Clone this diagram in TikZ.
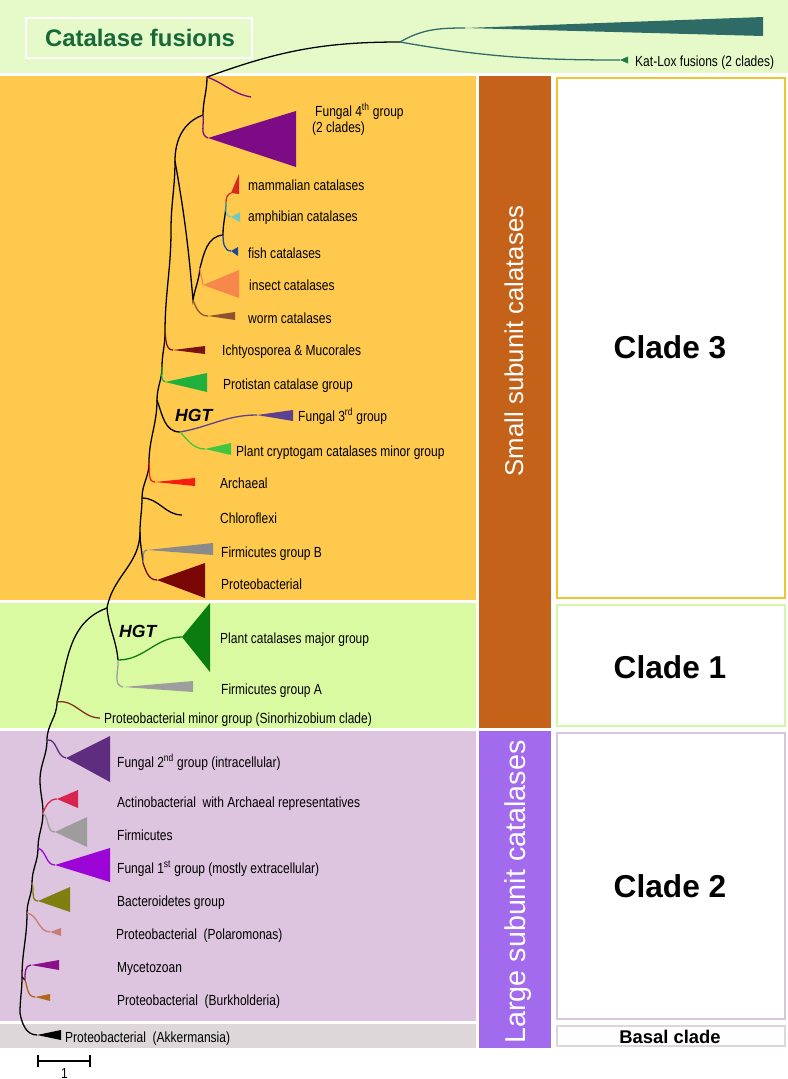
\documentclass[tikz,border=0pt]{standalone}
\usepackage{fontspec}
\setmainfont{Liberation Sans}
\newfontfamily\narrowfont[FakeStretch=0.82]{Liberation Sans}
\usepackage{tikz}

\definecolor{bandtop}{HTML}{E6FAC9}
\definecolor{bandorange}{HTML}{FEC94D}
\definecolor{bandgreen}{HTML}{DAFAA2}
\definecolor{bandpurple}{HTML}{DDC4DF}
\definecolor{bandgrey}{HTML}{DED7DA}
\definecolor{barbrown}{HTML}{C4621A}
\definecolor{barpurple}{HTML}{A26AEC}
\definecolor{boxyellow}{HTML}{F2C230}
\definecolor{boxgreen}{HTML}{D4F7A6}
\definecolor{boxpurple}{HTML}{D9C6DD}
\definecolor{boxgrey}{HTML}{DDD7D9}
\definecolor{titlegreen}{HTML}{17693A}
\definecolor{cfusion}{HTML}{2F6B66}
\definecolor{ckatlox}{HTML}{1F7A47}
\definecolor{cfourth}{HTML}{7D0B85}
\definecolor{cmam}{HTML}{D9291F}
\definecolor{camph}{HTML}{74C9BE}
\definecolor{cfish}{HTML}{1B4A95}
\definecolor{cins}{HTML}{F7884C}
\definecolor{cworm}{HTML}{8F5230}
\definecolor{cicht}{HTML}{7B1212}
\definecolor{cprot}{HTML}{1FB13C}
\definecolor{cthird}{HTML}{5C4191}
\definecolor{ccrypt}{HTML}{40C63F}
\definecolor{carch}{HTML}{F31D10}
\definecolor{cfirmb}{HTML}{8A8A8A}
\definecolor{cproteo}{HTML}{7A0505}
\definecolor{cplant}{HTML}{0B7D10}
\definecolor{cfirma}{HTML}{9E9E9E}
\definecolor{csino}{HTML}{7F3217}
\definecolor{csecond}{HTML}{5E2D7F}
\definecolor{cact}{HTML}{D82550}
\definecolor{cfirm}{HTML}{9D9D9D}
\definecolor{cfirst}{HTML}{9B06D6}
\definecolor{cbact}{HTML}{7F7F10}
\definecolor{cpol}{HTML}{C77D75}
\definecolor{cmyc}{HTML}{8B0E8A}
\definecolor{cburk}{HTML}{B1661D}

\begin{document}
\begin{tikzpicture}[x=0.03cm,y=-0.03cm,
  lbl/.style={anchor=base west,inner sep=0pt,font=\narrowfont\fontsize{12.5}{14}\selectfont},
  br/.style={line width=1.1pt},
  hgt/.style={anchor=base west,inner sep=0pt,font=\fontsize{15}{15}\selectfont\bfseries\itshape},
  clade/.style={inner sep=0pt,font=\fontsize{27}{27}\selectfont\bfseries},
  side/.style={rotate=90,anchor=base,inner sep=0pt,text=white}]
\useasboundingbox (0,0) rectangle (788,1079);

% background bands
\fill[bandtop] (0,0) rectangle (788,73);
\fill[bandorange] (0,76) rectangle (476,600);
\fill[bandgreen] (0,603) rectangle (476,728);
\fill[bandpurple] (0,731) rectangle (476,1021);
\fill[bandgrey] (0,1024) rectangle (476,1048);
\fill[barbrown] (479,76) rectangle (551,728);
\fill[barpurple] (479,731) rectangle (551,1048);
\draw[boxyellow,line width=2.5pt,fill=white] (557,78) rectangle (785,598);
\draw[boxgreen,line width=2.5pt,fill=white] (557,605) rectangle (785,726);
\draw[boxpurple,line width=2.5pt,fill=white] (557,733) rectangle (785,1019);
\draw[boxgrey,line width=2pt,fill=white] (557,1026) rectangle (785,1046);

% titles
\draw[white,line width=2.5pt] (26,18) rectangle (252,58);
\node[text=titlegreen,inner sep=0pt,font=\fontsize{20.4}{20.4}\selectfont\bfseries] (fusiontitle) at (140,38) {Catalase fusions};
\node[side,font=\fontsize{22}{22}\selectfont] (small) at (523,341) {Small subunit calatases};
\node[side,font=\fontsize{24.5}{24.5}\selectfont] (large) at (525,892) {Large subunit catalases};
\node[clade] (clade3) at (670,347) {Clade 3};
\node[clade] (clade1) at (670,667) {Clade 1};
\node[clade] (clade2) at (670,886) {Clade 2};
\node[inner sep=0pt,font=\fontsize{15.7}{15.7}\selectfont\bfseries] (basal) at (670,1037) {Basal clade};

% trunk
\coordinate (r0) at (20,1013);
\coordinate (r1) at (22,977);
\coordinate (r2) at (27,913);
\coordinate (r3) at (32,883);
\coordinate (r4) at (38,848);
\coordinate (r5) at (43,813);
\coordinate (r6) at (40,780);
\coordinate (r7) at (47,740);
\coordinate (r8) at (57,702);
\coordinate (r9) at (107,608);
\coordinate (r10) at (140,532);
\coordinate (r11) at (142,498);
\coordinate (r12) at (149,463);
\coordinate (r13) at (157,400);
\coordinate (r14) at (162,367);
\coordinate (r15) at (165,333);
\coordinate (r16) at (171,230);
\coordinate (r17) at (175,161);
\coordinate (r18) at (203,115);
\coordinate (r19) at (207,77);
\coordinate (f1) at (400,42);
\draw[br] (r0) to[out=90,in=-90] (r1) to[out=90,in=-90] (r2) to[out=90,in=-90] (r3)
  to[out=90,in=-90] (r4) to[out=90,in=-90] (r5) to[out=90,in=-90] (r6)
  to[out=90,in=-90] (r7) to[out=90,in=-90] (r8) to[out=75,in=200] (r9)
  to[out=80,in=-90] (r10) to[out=90,in=-90] (r11) to[out=90,in=-90] (r12)
  to[out=90,in=-90] (r13) to[out=90,in=-90] (r14) to[out=90,in=-90] (r15)
  to[out=90,in=-90] (r16) to[out=90,in=-90] (r17) to[out=90,in=200] (r18)
  to[out=90,in=-90] (r19) to[out=20,in=180] (f1);

% catalase fusions
\coordinate (wedge) at (465,28);
\coordinate (katlox) at (620,60);
\draw[br,cfusion] (f1) to[out=30,in=180] (wedge);
\fill[cfusion] (wedge) -- (763,17) -- (763,36) -- cycle;
\draw[br,cfusion] (f1) to[out=-10,in=180] (katlox);
\fill[ckatlox] (katlox) -- (628,56.5) -- (628,63.5) -- cycle;
\node[lbl] (lkatlox) at (635,66) {Kat-Lox fusions (2 clades)};

% clade 3
\coordinate (twig) at (251,97);
\draw[br,cfourth] (r19) to[out=-20,in=170] (twig);
\coordinate (fourth) at (208,138);
\draw[br,cfourth] (r18) to[out=-80,in=160] (fourth);
\fill[cfourth] (fourth) -- (296,111) -- (296,167) -- cycle;
\node[lbl] (lfourth) at (315,116) {Fungal 4\textsuperscript{th} group};
\node[lbl] (lfourthb) at (312,132) {(2 clades)};

\coordinate (a1) at (193,300);
\coordinate (a2) at (200,268);
\coordinate (a3) at (223,235);
\coordinate (a4) at (226,202);
\draw[br] (r17) to[out=-80,in=95] (a1) to[out=80,in=-95] (a2) to[out=75,in=185] (a3) to[out=90,in=-90] (a4);

\coordinate (mam) at (231,193);
\draw[br,cmam] (a4) to[out=90,in=200] (mam);
\fill[cmam] (mam) -- (239,174) -- (239,194) -- cycle;
\node[lbl] (lmam) at (248,190) {mammalian catalases};

\coordinate (amph) at (231,217);
\draw[br,camph] (a4) to[out=-90,in=180] (amph);
\fill[camph] (amph) -- (240,212) -- (240,222) -- cycle;
\node[lbl] (lamph) at (248,221) {amphibian catalases};

\coordinate (fish) at (231,251);
\draw[br,cfish] (a3) to[out=-90,in=180] (fish);
\fill[cfish] (fish) -- (238,247) -- (238,256) -- cycle;
\node[lbl] (lfish) at (248,258) {fish catalases};

\coordinate (ins) at (203,285);
\draw[br,cins] (a2) to[out=-85,in=100] (ins);
\fill[cins] (ins) -- (239,270) -- (239,298) -- cycle;
\node[lbl] (lins) at (249,290) {insect catalases};

\coordinate (worm) at (208,316);
\draw[br,cworm] (a1) to[out=-70,in=180] (worm);
\fill[cworm] (worm) -- (235,312) -- (235,320) -- cycle;
\node[lbl] (lworm) at (248,323) {worm catalases};

\coordinate (icht) at (173,350);
\draw[br,cicht] (r15) to[out=-80,in=180] (icht);
\fill[cicht] (icht) -- (205,346) -- (205,354) -- cycle;
\node[lbl] (licht) at (222,355) {Ichtyosporea \& Mucorales};

\coordinate (prot) at (165,382);
\draw[br,cprot] (r14) to[out=-80,in=160] (prot);
\fill[cprot] (prot) -- (207,373) -- (207,392) -- cycle;
\node[lbl] (lprot) at (223,389) {Protistan catalase group};

\coordinate (h1) at (180,432);
\draw[br] (r13) to[out=-70,in=180] (h1);
\node[hgt] (hgta) at (175,421) {HGT};
\coordinate (third) at (257,415);
\draw[br,cthird] (h1) to[out=10,in=180] (third);
\fill[cthird] (third) -- (293,410) -- (293,421) -- cycle;
\node[lbl] (lthird) at (298,421) {Fungal 3\textsuperscript{rd} group};

\coordinate (crypt) at (205,449);
\draw[br,ccrypt] (h1) to[out=-45,in=180] (crypt);
\fill[ccrypt] (crypt) -- (231,443) -- (231,455) -- cycle;
\node[lbl] (lcrypt) at (236,456) {Plant cryptogam catalases minor group};

\coordinate (arch) at (155,482);
\draw[br,carch] (r12) to[out=-80,in=180] (arch);
\fill[carch] (arch) -- (195,478) -- (195,486) -- cycle;
\node[lbl] (larch) at (220,488) {Archaeal};

\coordinate (chlor) at (182,515);
\draw[br] (r11) to[out=0,in=180] (chlor);
\node[lbl] (lchlor) at (220,523) {Chloroflexi};

\coordinate (p1) at (143,563);
\draw[br] (r10) to[out=-90,in=95] (p1);
\coordinate (firmb) at (147,550);
\draw[br,cfirmb] (p1) to[out=80,in=180] (firmb);
\fill[cfirmb] (firmb) -- (213,543) -- (213,555) -- cycle;
\node[lbl] (lfirmb) at (221,557) {Firmicutes group B};

\coordinate (proteo) at (157,580);
\draw[br,cproteo] (p1) to[out=-70,in=180] (proteo);
\fill[cproteo] (proteo) -- (205,563) -- (205,598) -- cycle;
\node[lbl] (lproteo) at (221,589) {Proteobacterial};

% clade 1
\coordinate (k1) at (118,660);
\draw[br] (r9) to[out=-85,in=95] (k1);
\node[hgt] (hgtb) at (119,637) {HGT};
\coordinate (plant) at (182,637);
\draw[br,cplant] (k1) to[out=0,in=180] (plant);
\fill[cplant] (plant) -- (210,603) -- (210,672) -- cycle;
\node[lbl] (lplant) at (220,643) {Plant catalases major group};

\coordinate (firma) at (123,687);
\draw[br,cfirma] (k1) to[out=-85,in=170] (firma);
\fill[cfirma] (firma) -- (193,681) -- (193,692) -- cycle;
\node[lbl] (lfirma) at (221,694) {Firmicutes group A};

\coordinate (sino) at (100,718);
\draw[br,csino] (r8) to[out=10,in=180] (sino);
\node[lbl] (lsino) at (104,723) {Proteobacterial minor group (Sinorhizobium clade)};

% clade 2
\coordinate (second) at (66,758);
\draw[br,csecond] (r7) to[out=10,in=170] (second);
\fill[csecond] (second) -- (110,736) -- (110,782) -- cycle;
\node[lbl] (lsecond) at (117,767) {Fungal 2\textsuperscript{nd} group (intracellular)};

\coordinate (act) at (57,799);
\draw[br,cact] (r5) to[out=70,in=180] (act);
\fill[cact] (act) -- (78,790) -- (78,808) -- cycle;
\node[lbl] (lact) at (117,807) {Actinobacterial~ with Archaeal representatives};

\coordinate (firm) at (55,832);
\draw[br,cfirm] (r5) to[out=-40,in=180] (firm);
\fill[cfirm] (firm) -- (87,817) -- (87,847) -- cycle;
\node[lbl] (lfirm) at (117,840) {Firmicutes};

\coordinate (first) at (55,865);
\draw[br,cfirst] (r4) to[out=-20,in=180] (first);
\fill[cfirst] (first) -- (110,848) -- (110,882) -- cycle;
\node[lbl] (lfirst) at (117,873) {Fungal 1\textsuperscript{st} group (mostly extracellular)};

\coordinate (bact) at (38,901);
\draw[br,cbact] (r3) to[out=-70,in=180] (bact);
\fill[cbact] (bact) -- (70,887) -- (70,912) -- cycle;
\node[lbl] (lbact) at (117,906) {Bacteroidetes group};

\coordinate (pol) at (50,932);
\draw[br,cpol] (r2) to[out=-10,in=180] (pol);
\fill[cpol] (pol) -- (61,928) -- (61,936) -- cycle;
\node[lbl] (lpol) at (116,939) {Proteobacterial~ (Polaromonas)};

\coordinate (m1) at (25,980);
\draw[br] (r1) to[out=0,in=180] (m1);
\coordinate (myc) at (31,965);
\draw[br,cmyc] (m1) to[out=90,in=180] (myc);
\fill[cmyc] (myc) -- (59,960) -- (59,970) -- cycle;
\node[lbl] (lmyc) at (117,972) {Mycetozoan};

\coordinate (burk) at (35,997);
\draw[br,cburk] (m1) to[out=-70,in=180] (burk);
\fill[cburk] (burk) -- (50,994) -- (50,1001) -- cycle;
\node[lbl] (lburk) at (117,1005) {Proteobacterial~ (Burkholderia)};

% basal clade
\coordinate (akk) at (37,1035);
\draw[br] (r0) to[out=-80,in=180] (akk);
\fill (akk) -- (61,1030) -- (61,1040) -- cycle;
\node[lbl] (lakk) at (65,1042) {Proteobacterial~ (Akkermansia)};

% scale bar
\coordinate (sb0) at (38,1061);
\coordinate (sb1) at (90,1061);
\draw[line width=0.9pt] (sb0) -- (sb1) (38,1055) -- (38,1067) (90,1055) -- (90,1067);
\node[lbl] (lsb) at (61,1078) {1};
\end{tikzpicture}
\end{document}
